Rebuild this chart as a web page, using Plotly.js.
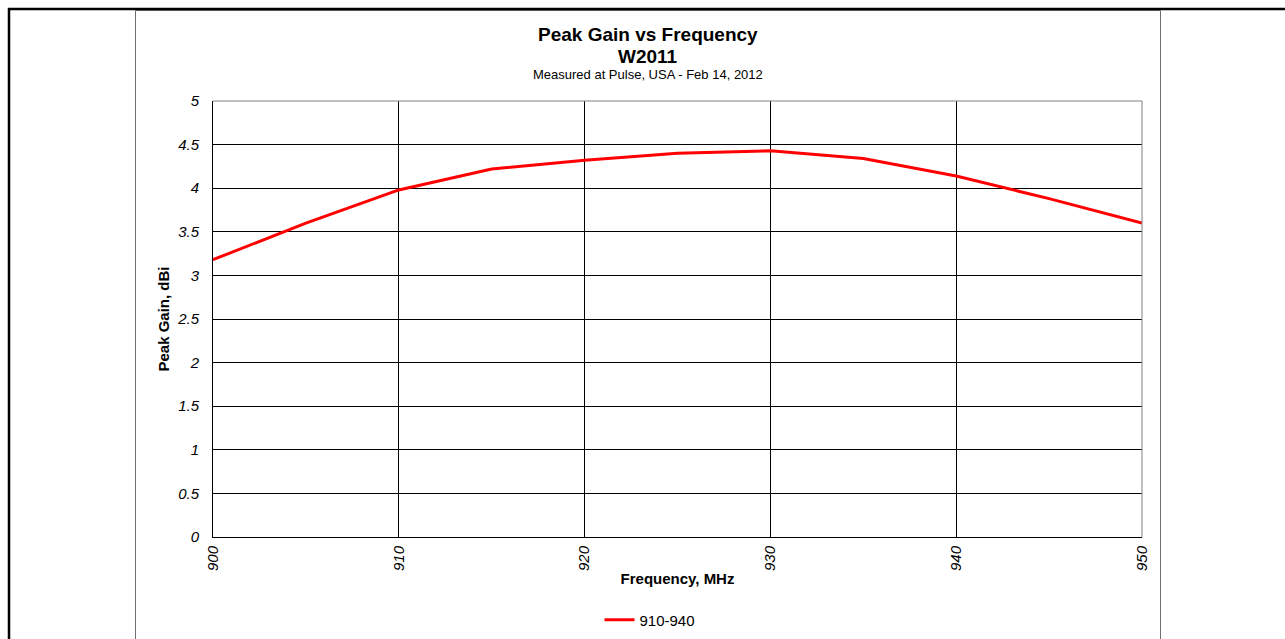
<!DOCTYPE html>
<html>
<head>
<meta charset="utf-8">
<script src="https://cdn.plot.ly/plotly-3.0.1.min.js"></script>
<style>
html,body{margin:0;padding:0;background:#fff;}
#chart{width:1285px;height:639px;}
</style>
</head>
<body>
<div id="chart"></div>
<script>
const frequency = [900, 905, 910, 915, 920, 925, 930, 935, 940, 945, 950];
const peakGain = [3.18, 3.60, 3.98, 4.22, 4.32, 4.40, 4.43, 4.34, 4.14, 3.88, 3.60];
const seriesName = "910-940";
const xTicks = [900, 910, 920, 930, 940, 950];
const yTicks = [0, 0.5, 1, 1.5, 2, 2.5, 3, 3.5, 4, 4.5, 5];
const yTickLabels = ["0", "0.5", "1", "1.5", "2", "2.5", "3", "3.5", "4", "4.5", "5"];

const W = 1285, H = 639;
const L = 213, R = 1142, T = 101, B = 537;
const px = v => (v - L) / (R - L);
const py = v => (B - v) / (B - T);
const FONT = "Liberation Sans, Arial, sans-serif";

const trace = {
  x: frequency, y: peakGain, name: seriesName, type: "scatter", mode: "lines",
  line: {color: "#ff0000", width: 3}
};

const layout = {
  width: W, height: H,
  margin: {l: L, r: W - R, t: T, b: H - B, pad: 0, autoexpand: false},
  paper_bgcolor: "#ffffff", plot_bgcolor: "#ffffff",
  font: {family: FONT, color: "#000", size: 15},
  showlegend: true,
  legend: {orientation: "h", x: px(650), xanchor: "center", y: py(620), yanchor: "middle",
           font: {family: FONT, size: 15, color: "#000"}, bgcolor: "rgba(0,0,0,0)"},
  xaxis: {
    range: [900, 950], tickvals: xTicks, ticktext: xTicks.map(String), tickangle: -90,
    showgrid: true, gridcolor: "#000", gridwidth: 1, zeroline: false, automargin: false,
    showline: true, linecolor: "#000", linewidth: 1, ticks: "",
    tickfont: {family: FONT, size: 15, style: "italic"},
    ticklabelstandoff: 2,
    title: {text: "<b>Frequency, MHz</b>", font: {family: FONT, size: 15}, standoff: 3}
  },
  yaxis: {
    range: [0, 5], tickvals: yTicks, ticktext: yTickLabels,
    showgrid: true, gridcolor: "#000", gridwidth: 1, zeroline: false, automargin: false,
    showline: true, linecolor: "#000", linewidth: 1, ticks: "",
    tickfont: {family: FONT, size: 15, style: "italic"},
    ticklabelstandoff: 10,
    title: {text: "<b>Peak Gain, dBi</b>", font: {family: FONT, size: 15}, standoff: 3}
  },
  annotations: [
    {text: "<b>Peak Gain vs Frequency</b>", xref: "paper", yref: "paper", x: px(648), y: py(35),
     xanchor: "center", yanchor: "middle", showarrow: false, font: {family: FONT, size: 19}},
    {text: "<b>W2011</b>", xref: "paper", yref: "paper", x: px(648), y: py(56),
     xanchor: "center", yanchor: "middle", showarrow: false, font: {family: FONT, size: 19}},
    {text: "Measured at Pulse, USA - Feb 14, 2012", xref: "paper", yref: "paper", x: px(648), y: py(74),
     xanchor: "center", yanchor: "middle", showarrow: false, font: {family: FONT, size: 13}}
  ],
  shapes: [
    {type: "line", xref: "paper", yref: "paper", x0: 0, x1: 1, y0: 1, y1: 1, line: {color: "#808080", width: 1}},
    {type: "line", xref: "paper", yref: "paper", x0: 1, x1: 1, y0: 0, y1: 1, line: {color: "#808080", width: 1}},
    {type: "line", xref: "paper", yref: "paper", x0: px(135.5), x1: px(135.5), y0: py(10.5), y1: py(640), line: {color: "#707070", width: 1}},
    {type: "line", xref: "paper", yref: "paper", x0: px(1160.5), x1: px(1160.5), y0: py(10.5), y1: py(640), line: {color: "#707070", width: 1}},
    {type: "line", xref: "paper", yref: "paper", x0: px(135.5), x1: px(1160.5), y0: py(10.5), y1: py(10.5), line: {color: "#707070", width: 1}},
    {type: "line", xref: "paper", yref: "paper", x0: px(8), x1: px(1290), y0: py(9), y1: py(9), line: {color: "#000", width: 2.5}},
    {type: "line", xref: "paper", yref: "paper", x0: px(9), x1: px(9), y0: py(8), y1: py(645), line: {color: "#000", width: 2.5}}
  ]
};

Plotly.newPlot("chart", [trace], layout, {displayModeBar: false, staticPlot: true});
</script>
</body>
</html>
